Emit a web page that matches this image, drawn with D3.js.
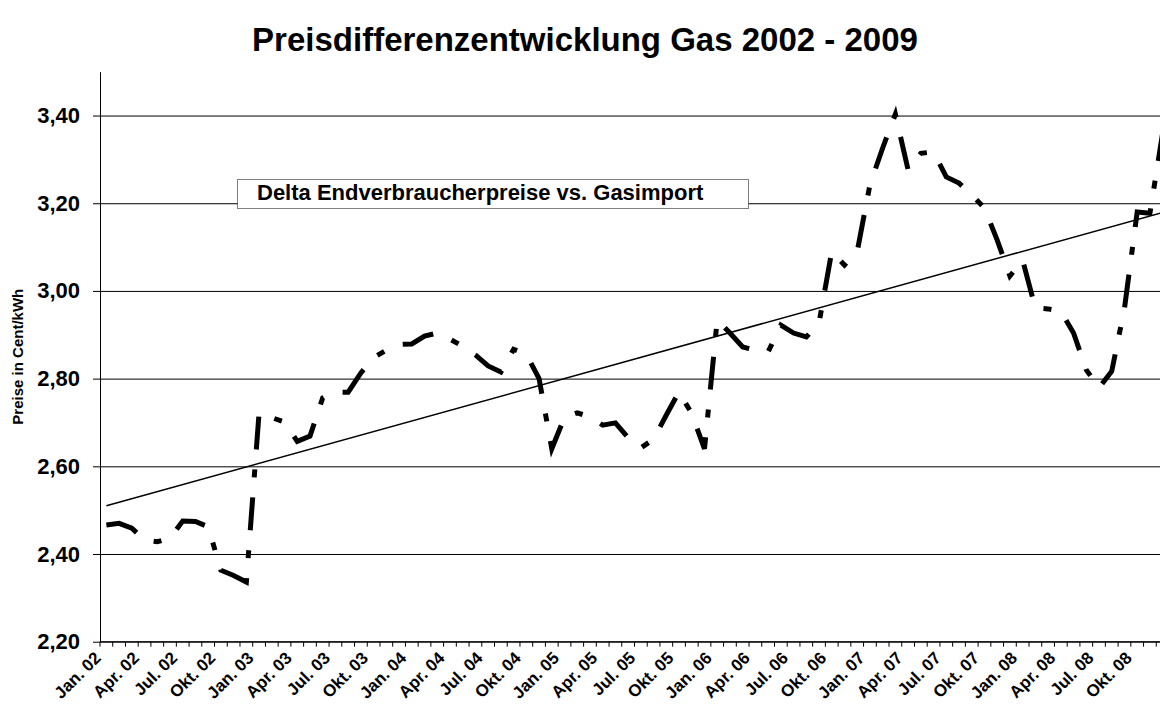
<!DOCTYPE html>
<html>
<head>
<meta charset="utf-8">
<script src="https://cdn.jsdelivr.net/npm/d3@7"></script>
<style>
  body { margin: 0; background: #fff; }
  svg { display: block; font-family: "Liberation Sans", Arial, sans-serif; }
</style>
</head>
<body>
<div id="chart"></div>
<script>
// category parts (x axis)
var monthNames = ["Jan.", "Feb.", "Mrz.", "Apr.", "Mai.", "Jun.", "Jul.", "Aug.", "Sep.", "Okt.", "Nov.", "Dez."];
var years = ["02", "03", "04", "05", "06", "07", "08"];

// Delta Endverbraucherpreise vs. Gasimport, Cent/kWh, one array per year
var delta2002 = [2.466, 2.470, 2.459, 2.432, 2.428, 2.436, 2.475, 2.474, 2.462, 2.363, 2.351, 2.336];
var delta2003 = [2.722, 2.711, 2.701, 2.657, 2.669, 2.756, 2.769, 2.769, 2.813, 2.848, 2.865, 2.878];
var delta2004 = [2.879, 2.897, 2.904, 2.890, 2.874, 2.854, 2.829, 2.815, 2.867, 2.856, 2.800, 2.640];
var delta2005 = [2.712, 2.722, 2.713, 2.694, 2.699, 2.665, 2.642, 2.662, 2.717, 2.770, 2.720, 2.640];
var delta2006 = [2.934, 2.904, 2.872, 2.865, 2.861, 2.922, 2.904, 2.895, 2.927, 3.090, 3.059, 3.090];
var delta2007 = [3.242, 3.326, 3.403, 3.276, 3.314, 3.317, 3.260, 3.246, 3.219, 3.189, 3.116, 3.034];
var delta2008 = [3.070, 2.961, 2.959, 2.954, 2.904, 2.820, 2.779, 2.817, 2.960, 3.180, 3.177, 3.360];

// linear trend, value at first and last month
var trendEnds = [2.510, 3.179];

// y axis
var yDomain = [2.2, 3.5];
var yTicks = [2.2, 2.4, 2.6, 2.8, 3.0, 3.2, 3.4];

var titleText = "Preisdifferenzentwicklung Gas 2002 - 2009";
var legendText = "Delta Endverbraucherpreise vs. Gasimport";
var yTitle = "Preise in Cent/kWh";

var W = 1160, H = 707;
var plotLeft = 100, plotRight = 1169, plotTop = 71.7, plotBottom = 641.7;

var categories = [];
years.forEach(function (yr) {
  monthNames.forEach(function (m) { categories.push(m + " " + yr); });
});
var values = [].concat(delta2002, delta2003, delta2004, delta2005, delta2006, delta2007, delta2008);
var data = categories.map(function (c, i) { return {cat: c, value: values[i]}; });

var svg = d3.select("#chart").append("svg")
  .attr("width", W)
  .attr("height", H);

var x = d3.scaleBand().domain(categories).range([plotLeft, plotRight]).padding(0);
var bw = x.bandwidth();
var y = d3.scaleLinear().domain(yDomain).range([plotBottom, plotTop]);

var fmt = function (d) { return d3.format(".2f")(d).replace(".", ","); };

// gridlines
svg.append("g")
  .attr("transform", "translate(" + plotLeft + ",0)")
  .call(d3.axisLeft(y).tickValues(yTicks).tickSize(-(plotRight - plotLeft)).tickFormat(""))
  .call(function (g) { g.select(".domain").remove(); })
  .selectAll("line").attr("stroke", "#000").attr("stroke-width", 1);

// y axis
var yAxisG = svg.append("g")
  .attr("transform", "translate(" + plotLeft + ",0)")
  .call(d3.axisLeft(y).tickValues(yTicks).tickSize(7).tickSizeOuter(0).tickPadding(13).tickFormat(fmt));
yAxisG.select(".domain").attr("stroke", "#000");
yAxisG.selectAll(".tick line").attr("stroke", "#000");
yAxisG.selectAll("text")
  .attr("fill", "#000")
  .style("font-size", "22px")
  .style("font-weight", "bold")
  .style("font-family", "Liberation Sans, Arial, sans-serif");

// x axis line + month ticks at category borders
svg.append("line")
  .attr("x1", plotLeft).attr("x2", plotRight)
  .attr("y1", plotBottom).attr("y2", plotBottom)
  .attr("stroke", "#000");

svg.append("g").selectAll("line")
  .data(categories.concat(["end"]))
  .enter().append("line")
  .attr("x1", function (d) { return d === "end" ? plotRight : x(d); })
  .attr("x2", function (d) { return d === "end" ? plotRight : x(d); })
  .attr("y1", plotBottom)
  .attr("y2", plotBottom + 5)
  .attr("stroke", "#000");

svg.append("g").selectAll("text")
  .data(categories.filter(function (d, i) { return i % 3 === 0; }))
  .enter().append("text")
  .attr("transform", function (d) { return "translate(" + (x(d) + 2) + "," + 659 + ") rotate(-45)"; })
  .attr("text-anchor", "end")
  .style("font-size", "17px")
  .style("font-weight", "bold")
  .text(function (d) { return d; });

// y title
svg.append("text")
  .attr("transform", "translate(23," + ((plotTop + plotBottom) / 2) + ") rotate(-90)")
  .attr("text-anchor", "middle")
  .style("font-size", "15px")
  .style("font-weight", "bold")
  .text(yTitle);

// title
svg.append("text")
  .attr("x", 585)
  .attr("y", 51)
  .attr("text-anchor", "middle")
  .style("font-size", "33px")
  .style("font-weight", "bold")
  .text(titleText);

// data line
var line = d3.line()
  .x(function (d) { return x(d.cat) + bw / 2; })
  .y(function (d) { return y(d.value); });

svg.append("path")
  .datum(data)
  .attr("d", line)
  .attr("fill", "none")
  .attr("stroke", "#000")
  .attr("stroke-width", 5)
  .attr("stroke-dasharray", "33,20,8,20");

// trend line
var trend = [
  {cat: categories[0], value: trendEnds[0]},
  {cat: categories[categories.length - 1], value: trendEnds[1]}
];
svg.append("path")
  .datum(trend)
  .attr("d", line)
  .attr("fill", "none")
  .attr("stroke", "#000")
  .attr("stroke-width", 1.5);

// legend box
svg.append("rect")
  .attr("x", 237.5).attr("y", 179.5)
  .attr("width", 511).attr("height", 29)
  .attr("fill", "#fff")
  .attr("stroke", "#000")
  .attr("stroke-width", 1)
  .attr("stroke-dasharray", "1,1");

svg.append("text")
  .attr("x", 257)
  .attr("y", 200)
  .style("font-size", "22px")
  .style("font-weight", "bold")
  .text(legendText);
</script>
</body>
</html>
